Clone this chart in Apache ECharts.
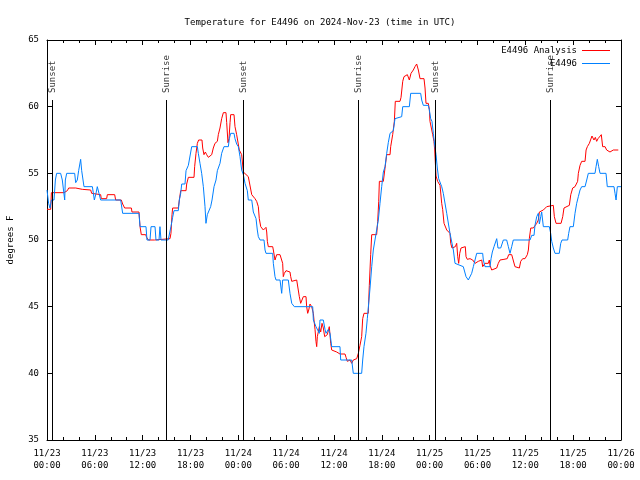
<!DOCTYPE html>
<html><head><meta charset="utf-8">
<script src="https://cdn.jsdelivr.net/npm/echarts@6/dist/echarts.min.js"></script>
<style>html,body{margin:0;padding:0;background:#fff}#c{width:640px;height:480px}</style>
</head><body><div id="c"></div>
<script>
const FONT = 'DejaVu Sans Mono';
const titleText = 'Temperature for E4496 on 2024-Nov-23 (time in UTC)';
const yAxisName = 'degrees F';
const seriesNames = ['E4496 Analysis', 'E4496'];
const seriesColors = ['#ff0000', '#0080ff'];
const eventHours = [0.67, 14.97, 24.63, 39.06, 48.71, 63.14];
const eventNames = ['Sunset', 'Sunrise', 'Sunset', 'Sunrise', 'Sunset', 'Sunrise'];
const eventLineTop = 60.5;
// hours since 11/23 00:00 UTC, degrees F
const analysisData = [
[0,52.3],[0.46,52.3],[0.55,53.55],[2.13,53.55],[2.22,53.7],[2.55,53.7],[2.72,53.9],[3.6,53.9],[3.68,53.8],[4.43,53.8],[4.5,53.75],[5.48,53.75],[5.6,53.5],[5.81,53.4],[6.73,53.4],[6.81,53.1],[7.48,53.1],[7.57,53.4],[8.49,53.4],[8.61,53],[9.32,53],[9.49,52.7],[9.74,52.4],[10.58,52.4],[10.66,52.1],[11.54,52.1],[11.67,51],[11.83,50.4],[12.38,50.4],[12.5,50.2],[12.71,50],[13.5,50],[13.63,50.1],[15.43,50.1],
[15.55,50.5],[15.68,51.9],[15.76,52.4],[16.47,52.4],[16.6,53],[16.77,53.7],[17.44,53.7],[17.52,54.2],[17.73,54.7],[18.44,54.7],[18.52,55.5],[18.69,56.5],[18.86,57.25],[19.02,57.5],[19.44,57.5],[19.53,56.9],[19.69,56.4],[19.86,56.6],[20.03,56.4],[20.24,56.2],[20.45,56.05],[20.66,56.4],[20.86,56.9],[21.07,57.25],[21.37,57.4],[21.49,57.9],[21.7,58.4],[21.91,59.1],[22.12,59.55],[22.45,59.55],[22.54,58.8],[22.7,57.3],[22.83,57.6],[22.96,58.8],[23.04,59.4],[23.46,59.4],[23.58,58.5],[23.79,57.9],[24.04,57.9],[24.12,56.75],[24.42,56.4],[24.63,55.1],
[24.84,55],[25.25,54.75],[25.46,54.6],[25.68,53.4],[25.88,53.25],[26.09,53.1],[26.3,52.9],[26.51,52.5],[26.63,51.6],[26.81,51],[27.14,50.75],[27.47,50.95],[27.56,50.6],[27.64,49.9],[27.76,49.5],[28.31,49.5],[28.39,49.25],[28.6,48.5],[28.81,48.9],[29.01,48.75],[29.23,48.9],[29.44,48.75],[29.56,48.25],[29.64,47.25],[29.77,47.5],[29.98,47.7],[30.48,47.6],[30.57,47.25],[30.7,46.9],[30.9,46.9],[31.32,47],[31.52,46.9],[31.65,45.75],[31.82,45.25],[31.99,45.4],[32.15,45.75],[32.49,45.75],[32.57,45],[32.7,44.5],[32.83,44.75],[32.99,45.2],[33.2,45],[33.41,44.5],[33.49,44],[33.62,43.3],[33.74,42.4],[33.83,42],[33.91,42.75],[34.04,42.9],[34.16,43.5],[34.33,43.1],[34.5,43.75],[34.66,43.4],[34.83,42.75],[35.16,42.9],[35.41,43.5],[35.59,42.25],[35.71,41.75],[36.34,41.6],[36.75,41.45],[37.38,41.45],[37.51,41.2],[37.67,40.9],[38.01,41],[38.22,40.75],[38.42,41],[38.85,41.1],[39.05,41.5],[39.26,42.1],[39.47,42.75],[39.6,44.1],[39.76,44.5],
[40.3,44.5],[40.43,46.6],[40.6,48.9],[40.73,50.4],[41.35,50.4],[41.48,51.4],[41.61,52.9],[41.69,54.4],[42.19,54.4],[42.4,55.4],[42.61,56.4],[43.03,56.4],[43.11,57],[43.36,57.9],[43.57,58.9],[43.69,60.4],[44.28,60.4],[44.41,60.7],[44.62,61.9],[44.78,62.25],[45.03,62.1],[45.2,62.4],[45.45,62],[45.66,62.5],[45.95,62.75],[46.16,63],[46.37,63.2],[46.58,62.75],[46.79,62.1],[47.29,62.1],[47.42,61.4],[47.54,60.25],[47.83,60.25],[47.96,59.8],[48.04,58.9],[48.21,58.9],[48.38,57.9],[48.54,57.4],[48.63,56.75],[48.8,54.8],[49.0,54.4],[49.3,54.1],[49.51,52.75],[49.63,52.3],[49.8,51.25],[49.92,51.1],
[50.14,50.75],[50.34,50.75],[50.55,50.5],[50.64,49.75],[50.8,49.4],[51.05,49.4],[51.22,49.5],[51.39,49.75],[51.52,48.75],[51.64,48.25],[51.77,49.0],[51.93,49.4],[52.14,49.55],[52.47,49.5],[52.56,48.75],[52.72,48.55],[53.06,48.6],[53.4,48.5],[53.69,48.25],[53.9,48.1],[54.1,48.4],[54.32,48.25],[54.53,48.5],[54.65,48.0],[54.94,48.25],[55.15,48.4],[55.36,48.25],[55.48,48.5],[55.57,48.1],[55.78,47.75],[56.41,47.9],[56.61,48.25],[56.82,48.5],[57.03,48.6],[57.32,48.55],[57.57,48.4],[57.73,48.6],[57.91,48.9],[58.29,48.9],[58.49,48.75],[58.7,48.0],[58.83,47.9],[59.25,47.9],[59.42,48.4],[59.67,48.6],[59.96,48.6],[60.25,48.9],[60.38,49.25],[60.5,50.1],[60.68,50.9],[61.0,50.9],[61.21,51.0],[61.43,51.25],[61.63,51.5],[61.76,52.1],[62.26,52.25],[62.47,52.4],[62.68,52.5],[62.88,52.6],[63.51,52.6],[63.64,51.75],[63.85,51.25],[64.48,51.25],[64.69,51.75],[64.85,52.4],[65.1,52.5],[65.52,52.6],[65.7,53.4],[65.94,53.9],[66.23,54],[66.44,54.1],[66.56,54.4],[66.65,55],[66.86,55.6],[67.07,55.9],[67.49,55.9],[67.62,56.75],[67.78,57.0],[68.03,57.25],[68.2,57.4],[68.36,57.8],[68.61,57.5],[68.78,57.7],[68.95,57.4],[69.12,57.6],[69.28,57.75],[69.53,57.9],[69.7,57.0],[70.0,57.0],[70.2,56.75],[70.62,56.6],[70.83,56.5],[71.03,56.75],[71.66,56.75]
];
const obsData = [
[0,53.75],[0.2,52.75],[0.38,52.4],[0.55,53],[0.88,53],[1.05,54.5],[1.21,55],[1.71,55],[1.92,54.5],[2.22,53],[2.3,54.5],[2.47,55],[3.47,55],[3.6,54.3],[3.8,54.5],[3.97,55.2],[4.22,56.05],[4.35,55.2],[4.64,54],[5.69,54],[5.94,53],[6.15,53.5],[6.31,54],[6.52,53.5],[6.73,53],[9.24,53],[9.49,52],[11.54,52],[11.67,51],[12.42,51],[12.54,50],[12.92,50],[13.05,51],[13.55,51],[13.67,50],[14.05,50],[14.17,51],[14.3,50],[15.2,50],
[15.55,51],[15.76,51.7],[15.93,52.2],[16.47,52.2],[16.6,53],[16.77,53.5],[16.9,54.2],[17.31,54.2],[17.44,55.2],[17.73,55.6],[18.15,57],[18.86,57],[18.98,56.5],[19.19,55.75],[19.4,55],[19.61,54],[19.82,52.5],[19.94,51.25],[20.11,51.9],[20.36,52],[20.53,52.5],[20.7,53],[20.95,54],[21.2,54.5],[21.37,55.2],[21.7,55.75],[21.91,56.5],[22.2,57],[22.75,57],[22.87,57.6],[23.04,58],[23.46,58],[23.58,57.6],[23.79,57.2],[24.0,57],[24.21,56.25],[24.42,55.25],[24.63,54.9],[24.84,54.25],[25.13,53.7],[25.25,53],
[25.68,53],[25.88,52.1],[26.22,51.6],[26.38,50.75],[26.51,50.25],[26.72,50],[27.22,50],[27.35,49.25],[27.47,49],[28.31,49],[28.39,48.25],[28.6,47.25],[28.73,47],[29.23,47],[29.44,46],[29.56,47],[30.27,47],[30.48,46],[30.7,45.25],[31.02,45],[33.33,45],[33.41,44],[33.74,43.5],[34.16,43],[34.24,44],[34.66,44],[34.87,43.3],[35.0,43],[35.29,43.3],[35.5,43],[35.71,42],[36.75,42],[36.84,41],[38.22,41],[38.42,40],[39.47,40],
[39.6,41],[39.76,42],[40.01,43],[40.18,44.1],[40.52,46.4],[40.73,48],[40.93,49.25],[41.14,50],[41.35,50.75],[41.56,51.5],[41.77,52.75],[41.98,54],[42.19,55.1],[42.4,55.5],[42.61,56.5],[42.81,57.3],[43.03,58],[43.44,58.2],[43.65,59.1],[43.86,59.25],[44.49,59.25],[44.62,60],[45.45,60],[45.62,61],[46.87,61],[47.0,60.5],[47.2,60.1],[47.83,60.1],[47.96,59.75],[48.13,59.1],[48.29,58.9],[48.46,58],[48.63,57.1],[48.8,56.4],[48.96,55.4],[49.13,54.6],[49.3,54.5],[49.51,54],[49.71,53.5],
[50.14,52],[50.55,50.5],[50.97,49.25],[51.18,48.25],[52.22,48],[52.56,47.25],[52.85,47],[53.06,47],[53.27,47.5],[53.48,48],[53.69,48.5],[53.9,49],[54.65,49],[54.73,48.5],[54.94,48],[55.57,48],[55.7,48.6],[55.86,49.1],[56.07,49.5],[56.41,50.1],[56.57,49.4],[56.91,49.4],[57.24,50],[57.66,50],[57.87,49.5],[58.08,49],[58.29,49.5],[58.49,50],[60.59,50],[60.8,50.35],[61.09,50.35],[61.21,51.1],[61.43,51.75],[61.63,52],[61.76,51.2],[61.93,51.75],[62.05,52.1],[62.26,51],[63.01,51],[63.18,50.5],[63.31,49.9],[63.51,49.4],[63.72,49],[64.26,49],[64.44,49.75],[64.6,50],[65.31,50],[65.44,50.5],[65.6,51],[66.02,51],[66.23,52],[66.44,52.75],[66.65,53.25],[66.86,53.75],[67.07,54],[67.49,54],[67.7,54.5],[67.9,55],[68.74,55],[68.87,55.5],[69.03,56.05],[69.2,55.5],[69.37,55],[70.12,55],[70.28,54],[71.12,54],[71.25,53.5],[71.38,53],[71.54,54],[72.0,54]
];

function xLabel(v) {
  const day = 23 + Math.floor(v / 24);
  const hh = v % 24;
  return '11/' + day + '\n' + String(hh).padStart(2, '0') + ':00';
}
const txt = { fontFamily: FONT, fontSize: 9, color: '#000' };
const black = { color: '#000', width: 1 };

function xAxisCfg(pos, labels) {
  return {
    type: 'value', position: pos, min: 0, max: 72, interval: 6,
    axisLine: { show: true, onZero: false, lineStyle: black },
    axisTick: { show: true, inside: true, length: 5, lineStyle: black },
    minorTick: { show: true, splitNumber: 3, length: 3, lineStyle: black },
    splitLine: { show: false },
    axisLabel: labels ? Object.assign({ show: true, formatter: xLabel, lineHeight: 12, margin: 8, showMinLabel: true, showMaxLabel: true, hideOverlap: false }, txt) : { show: false }
  };
}
function yAxisCfg(pos, labels) {
  const a = {
    type: 'value', position: pos, min: 35, max: 65, interval: 5,
    axisLine: { show: true, onZero: false, lineStyle: black },
    axisTick: { show: true, inside: true, length: 5, lineStyle: black },
    splitLine: { show: false },
    axisLabel: labels ? Object.assign({ show: true, margin: 8 }, txt) : { show: false }
  };
  if (labels) {
    a.name = yAxisName; a.nameLocation = 'middle'; a.nameGap = 32; a.nameRotate = 90;
    a.nameTextStyle = Object.assign({}, txt);
  }
  return a;
}
function legendCfg(i, top) {
  return {
    data: [seriesNames[i]], right: 25, top: top, orient: 'vertical', align: 'right',
    icon: 'rect', itemWidth: 28, itemHeight: 1, itemGap: 0,
    textStyle: Object.assign({}, txt), selectedMode: false
  };
}

const chart = echarts.init(document.getElementById('c'), null, { renderer: 'canvas' });
chart.setOption({
  animation: false,
  backgroundColor: '#fff',
  title: { text: titleText, left: 'center', top: 13, textStyle: Object.assign({ fontWeight: 'normal' }, txt) },
  legend: [legendCfg(0, 41), legendCfg(1, 54)],
  grid: { left: 47, right: 19, top: 40, bottom: 40, containLabel: false, outerBoundsMode: 'none' },
  xAxis: [xAxisCfg('bottom', true), xAxisCfg('top', false)],
  yAxis: [yAxisCfg('left', true), yAxisCfg('right', false)],
  series: [
    { name: seriesNames[0], type: 'line', data: analysisData, symbol: 'none', showSymbol: false,
      lineStyle: { color: seriesColors[0], width: 1 }, itemStyle: { color: seriesColors[0] }, z: 3 },
    { name: seriesNames[1], type: 'line', data: obsData, symbol: 'none', showSymbol: false,
      lineStyle: { color: seriesColors[1], width: 1 }, itemStyle: { color: seriesColors[1] }, z: 4 },
    { type: 'scatter', symbolSize: 0, silent: true, z: 5,
      data: eventHours.map((h, i) => [h, eventLineTop, eventNames[i]]),
      label: Object.assign({ show: true, position: 'top', distance: 7, rotate: 90, align: 'left', verticalAlign: 'middle',
        formatter: p => p.data[2] }, txt),
      markLine: { silent: true, symbol: ['none', 'none'], label: { show: false },
        lineStyle: { color: '#000', width: 1, type: 'solid' },
        data: eventHours.map(h => [{ coord: [h, 35] }, { coord: [h, eventLineTop] }]) } }
  ]
});
</script>
</body></html>
